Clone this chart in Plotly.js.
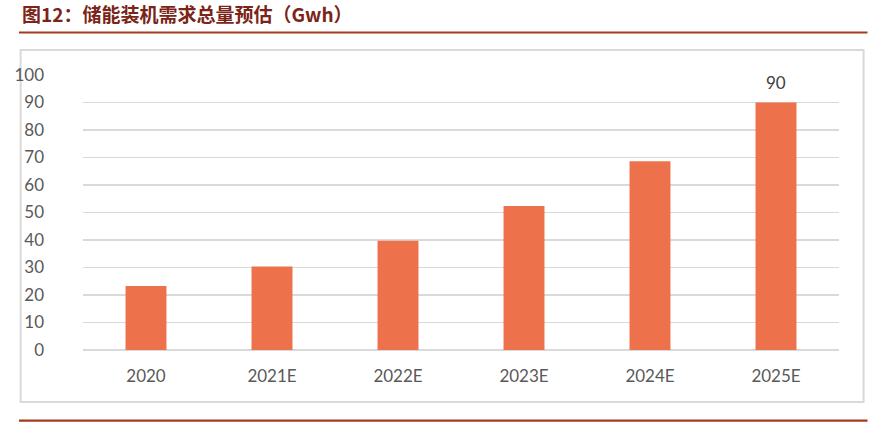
<!DOCTYPE html>
<html><head><meta charset="utf-8">
<script src="https://cdn.plot.ly/plotly-3.0.1.min.js"></script>
<style>html,body{margin:0;padding:0;background:#fff;}#chart{width:887px;height:430px;}</style>
</head><body><div id="chart"></div>
<script>
const categories = ["2020", "2021E", "2022E", "2023E", "2024E", "2025E"];
const demandGwh = [23.3, 30.4, 39.7, 52.4, 68.6, 90];
const labelIndex = 5;
const yTicks = [0, 10, 20, 30, 40, 50, 60, 70, 80, 90, 100];
const chartTitle = "图12：储能装机需求总量预估（Gwh）";

const trace = {
  type: "bar",
  x: categories,
  y: demandGwh,
  marker: {color: "#ED714B"},
  hoverinfo: "x+y"
};

const layout = {
  width: 887, height: 430,
  margin: {l: 83, r: 48, t: 75, b: 80},
  paper_bgcolor: "#ffffff", plot_bgcolor: "#ffffff",
  bargap: 0.675,
  showlegend: false,
  font: {family: "Lato, 'Open Sans', sans-serif", color: "#595959"},
  xaxis: {
    type: "category",
    showgrid: false, zeroline: false, showline: false,
    ticks: "", tickfont: {size: 17, color: "#595959"},
    ticklabelstandoff: 14
  },
  yaxis: {
    range: [0, 100], tickvals: yTicks, ticktext: yTicks.map(String),
    showgrid: true, gridcolor: "#d9d9d9", gridwidth: 1.5,
    zeroline: true, zerolinecolor: "#d9d9d9", zerolinewidth: 1.5,
    showline: false, ticks: "",
    tickfont: {size: 17, color: "#595959"},
    ticklabelstandoff: 38
  },
  annotations: [
    {
      xref: "paper", yref: "paper", x: -0.0835, y: 1.222,
      xanchor: "left", yanchor: "middle", showarrow: false,
      text: "<b>" + chartTitle + "</b>",
      font: {family: "'Noto Sans CJK SC', sans-serif", size: 19, color: "#7B2418"}
    },
    {
      xref: "x", yref: "y", x: categories[labelIndex], y: demandGwh[labelIndex],
      xanchor: "center", yanchor: "bottom", yshift: 8, showarrow: false,
      text: String(demandGwh[labelIndex]),
      font: {family: "Lato, 'Open Sans', sans-serif", size: 17, color: "#404040"}
    }
  ],
  shapes: [
    {type: "rect", xref: "paper", yref: "paper", x0: -0.0825, x1: 1.0325, y0: -0.189, y1: 1.0909,
     line: {color: "#d9d9d9", width: 2}, layer: "below"},
    {type: "line", xref: "paper", yref: "paper", x0: -0.0847, x1: 1.0377, y0: 1.1545, y1: 1.1545,
     line: {color: "#A53A1E", width: 2.2}},
    {type: "line", xref: "paper", yref: "paper", x0: -0.0847, x1: 1.0377, y0: -0.2571, y1: -0.2571,
     line: {color: "#A53A1E", width: 2.2}}
  ]
};

Plotly.newPlot("chart", [trace], layout, {displayModeBar: false, staticPlot: true});
</script>
</body></html>
